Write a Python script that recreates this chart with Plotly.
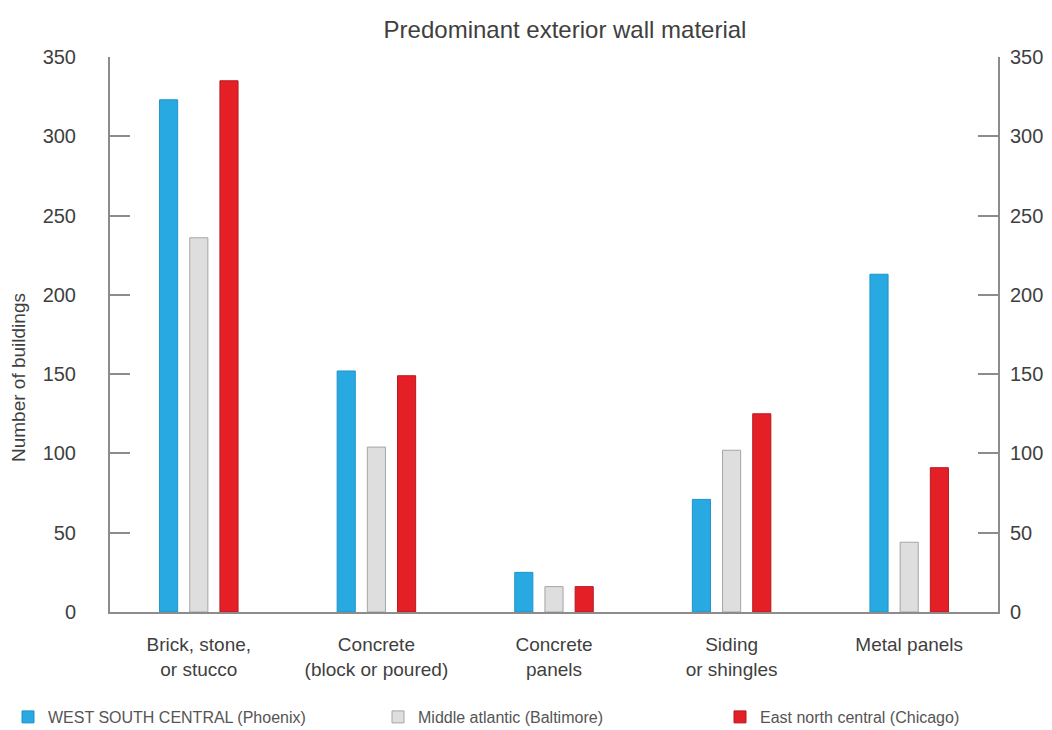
import plotly.graph_objects as go

categories = ["Brick, stone,<br>or stucco", "Concrete<br>(block or poured)", "Concrete<br>panels",
              "Siding<br>or shingles", "Metal panels"]
series_names = ["WEST SOUTH CENTRAL (Phoenix)", "Middle atlantic (Baltimore)", "East north central (Chicago)"]
phoenix = [323, 152, 25, 71, 213]
baltimore = [236, 104, 16, 102, 44]
chicago = [335, 149, 16, 125, 91]
y_ticks = [0, 50, 100, 150, 200, 250, 300, 350]

fills = ["#29a9e1", "#dedede", "#e41f26"]
edges = ["#1f93c9", "#a5a5a5", "#b51b20"]
legend_ids = ["legend", "legend2", "legend3"]

FONT = "Liberation Sans, Arial, sans-serif"
TXT = "#3f3f3f"
W, H = 1044, 722  # page body has an 8px margin

fig = go.Figure()
for name, vals, fc, ec, lg in zip(series_names, [phoenix, baltimore, chicago], fills, edges, legend_ids):
    fig.add_trace(go.Bar(x=categories, y=vals, name=name, legend=lg, showlegend=True,
                         marker=dict(color=fc, line=dict(color=ec, width=1))))
# carrier for the mirrored right-hand axis (draws nothing)
fig.add_trace(go.Scatter(x=categories, y=chicago, yaxis="y2", mode="none",
                         showlegend=False, hoverinfo="skip"))

axis_color = "#8c8c8c"
fig.update_layout(
    width=W, height=H,
    paper_bgcolor="white", plot_bgcolor="white",
    margin=dict(l=102, r=54, t=49, b=118, autoexpand=False),
    barmode="group", bargap=0.49, bargroupgap=0.4,
    showlegend=True,
    font=dict(family=FONT, color=TXT, size=18),
    title=dict(text="Predominant exterior wall material", x=557 / W, xanchor="center",
               y=1 - 22 / H, yanchor="middle", font=dict(size=24, color=TXT)),
    xaxis=dict(showline=True, linecolor=axis_color, linewidth=2, ticks="", showgrid=False,
               automargin=False, tickfont=dict(size=19, color=TXT), ticklabelstandoff=14),
    yaxis=dict(range=[0, 350], tickvals=y_ticks, showline=True, linecolor=axis_color, linewidth=2,
               ticks="inside", ticklen=20, tickcolor=axis_color, tickwidth=2, showgrid=False,
               automargin=False, zeroline=False, tickfont=dict(size=20, color=TXT),
               ticklabelstandoff=28),
    yaxis2=dict(range=[0, 350], tickvals=y_ticks, overlaying="y", side="right", showline=True,
                linecolor=axis_color, linewidth=2, ticks="inside", ticklen=20, tickcolor=axis_color,
                tickwidth=2, showgrid=False, zeroline=False, automargin=False,
                tickfont=dict(size=20, color=TXT), ticklabelstandoff=6),
    annotations=[dict(text="Number of buildings", textangle=-90, xref="paper", yref="paper",
                      x=-(102 - 10) / (W - 156), xanchor="center",
                      y=(604 - 370) / (604 - 49), yanchor="middle", showarrow=False,
                      font=dict(size=19, color=TXT))],
)
legend_x = [-3, 370, 712]
for lg, lx in zip(legend_ids, legend_x):
    fig.update_layout({lg: dict(orientation="h", xref="container", yref="container",
                                x=max(lx, 0) / W, xanchor="left", y=13 / H, yanchor="middle",
                                font=dict(size=16, color="#555555"), bgcolor="rgba(0,0,0,0)")})

fig.write_html("out.html")
